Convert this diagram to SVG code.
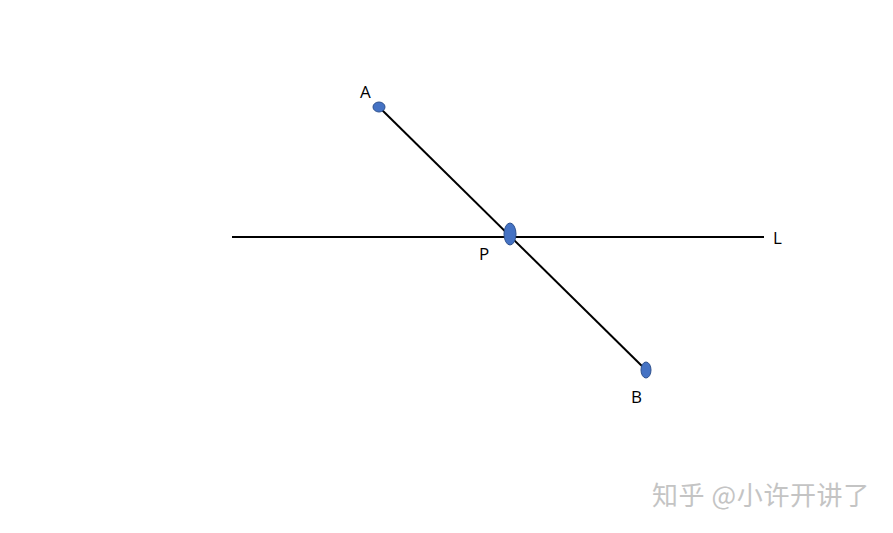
<svg xmlns="http://www.w3.org/2000/svg" width="893" height="533" viewBox="0 0 893 533">
<style>
.lbl{font-family:"Open Sans","Liberation Sans",sans-serif;font-size:17px;fill:#000}
.pt{fill:#4472C4;stroke:#2F528F;stroke-width:1}
.ln{stroke:#000;stroke-width:2;fill:none}
.wm{font-family:"Noto Sans CJK SC",sans-serif;font-size:26px;letter-spacing:0.6px;fill:#c4c4c4}
</style>
<rect width="893" height="533" fill="#fff"/>
<g id="connectors">
<line class="ln" x1="232" y1="237" x2="764" y2="237"/>
<line class="ln" x1="379" y1="107" x2="646" y2="370"/>
</g>
<g id="A"><ellipse class="pt" cx="379" cy="107" rx="6" ry="5"/><text class="lbl" x="360" y="98">A</text></g>
<g id="P"><ellipse class="pt" cx="510" cy="234" rx="6" ry="11"/><text class="lbl" x="479" y="260">P</text></g>
<g id="B"><ellipse class="pt" cx="646" cy="370" rx="5" ry="8"/><text class="lbl" x="631" y="403">B</text></g>
<g id="L"><text class="lbl" x="773" y="244">L</text></g>
<text class="wm" x="652" y="505">知乎 @小许开讲了</text>
</svg>
